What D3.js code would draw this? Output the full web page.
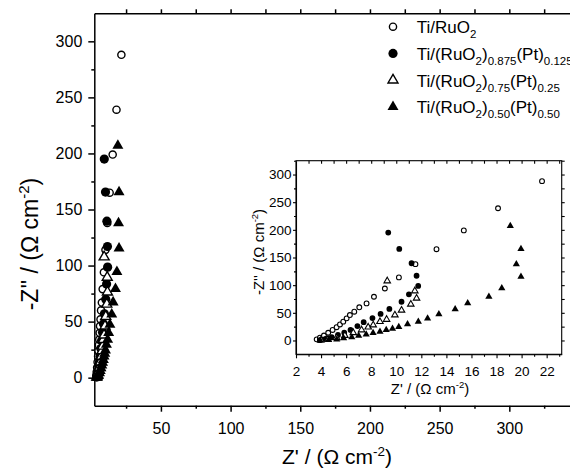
<!DOCTYPE html>
<html>
<head>
<meta charset="utf-8">
<script src="https://cdn.jsdelivr.net/npm/d3@7"></script>
<style>
  body { margin: 0; background: #fff; }
  svg { display: block; font-family: "Liberation Sans", Arial, sans-serif; }
</style>
</head>
<body>
<div id="chart"></div>
<script>
// legend labels as [text, isSubscript] pieces
const seriesLabels = [
  [["Ti/RuO", 0], ["2", 1]],
  [["Ti/(RuO", 0], ["2", 1], [")", 0], ["0.875", 1], ["(Pt)", 0], ["0.125", 1]],
  [["Ti/(RuO", 0], ["2", 1], [")", 0], ["0.75", 1], ["(Pt)", 0], ["0.25", 1]],
  [["Ti/(RuO", 0], ["2", 1], [")", 0], ["0.50", 1], ["(Pt)", 0], ["0.50", 1]]
];

// Z' and -Z'' values (ohm cm-2)
const ruo2Re = [3.65, 3.91, 4.23, 4.57, 4.92, 5.24, 5.51, 5.77, 6.04, 6.30, 6.65, 7.05, 7.63, 8.22, 9.09, 10.21, 11.53, 13.21, 15.39, 18.12, 21.63];
const ruo2Im = [2, 5, 9, 14, 19, 24, 29, 34, 40, 46, 52, 60, 67, 79, 94, 114, 138, 165, 199, 239, 288];

const pt125Re = [3.9, 4.35, 4.85, 5.35, 5.85, 6.35, 6.9, 7.4, 8.1, 8.75, 9.45, 10.42, 11.01, 11.75, 11.62, 11.22, 10.24, 9.36];
const pt125Im = [0.5, 3, 6, 10, 14, 19, 26, 33, 40.5, 48, 57, 70, 83.5, 98.6, 117, 139.6, 165.5, 195];

const pt25Re = [4.0, 4.55, 5.24, 5.9, 6.57, 7.23, 7.76, 8.16, 8.7, 9.23, 9.89, 10.42, 11.16, 11.62, 11.48, 9.28];
const pt25Im = [0.5, 2, 5, 9, 14, 19, 24, 28, 34, 38, 46, 54.6, 65.5, 76.3, 89.5, 107.6];

const pt50Re = [3.93, 4.6, 5.25, 5.8, 6.45, 7.0, 7.6, 8.15, 8.7, 9.2, 9.7, 10.2, 10.9, 11.76, 12.5, 13.4, 14.7, 15.7, 17.39, 18.42, 19.95, 19.58, 19.95, 19.1];
const pt50Im = [0, 1, 2, 4, 6, 8.5, 11, 13.5, 16, 19, 21.5, 24.5, 29.5, 34, 40, 47.4, 56.4, 67.3, 79.2, 94.4, 115.4, 137.8, 165.5, 207];

// tick values
const mainXTicks = [50, 100, 150, 200, 250, 300];
const mainYTicks = [0, 50, 100, 150, 200, 250, 300];
const insetXTicks = [2, 4, 6, 8, 10, 12, 14, 16, 18, 20, 22];
const insetYTicks = [0, 50, 100, 150, 200, 250, 300];

const series = [
  { re: ruo2Re, im: ruo2Im, shape: d3.symbolCircle, filled: false },
  { re: pt125Re, im: pt125Im, shape: d3.symbolCircle, filled: true },
  { re: pt25Re, im: pt25Im, shape: d3.symbolTriangle, filled: false },
  { re: pt50Re, im: pt50Im, shape: d3.symbolTriangle, filled: true }
].map((s, i) => ({ ...s, label: seriesLabels[i], points: s.re.map((r, j) => [r, s.im[j]]) }));

const W = 570, H = 471;
const svg = d3.select("#chart").append("svg").attr("width", W).attr("height", H);

// marker sizes, big (main/legend) and small (inset)
const bigSize = [{ r: 3.6 }, { r: 4.6 }, { s: 10 }, { s: 11 }];
const smallSize = [{ r: 2.4 }, { r: 2.9 }, { s: 6.5 }, { s: 7.2 }];
const area = d => d.r ? Math.PI * d.r * d.r : Math.sqrt(3) / 4 * d.s * d.s;

const symbolPath = (s, i, sizes) => d3.symbol().type(s.shape).size(area(sizes[i]))();

const drawMarks = (g, x, y, sizes, sw) => {
  series.forEach((s, i) => {
    g.append("g").selectAll("path")
      .data(s.points)
      .join("path")
        .attr("d", symbolPath(s, i, sizes))
        .attr("transform", d => `translate(${x(d[0])},${y(d[1])})`)
        .attr("fill", s.filled ? "#000" : "#fff")
        .attr("stroke", "#000")
        .attr("stroke-width", s.filled ? 0 : sw);
  });
};

const minorAxis = (axis, values, size) => axis.tickValues(values).tickSize(size).tickFormat(() => "");

const styleAxis = (sel, width, fontSize) => {
  sel.attr("font-family", null).attr("font-size", fontSize);
  sel.select(".domain").attr("stroke-width", width);
  sel.selectAll(".tick line").attr("stroke-width", width);
  sel.selectAll(".tick text").attr("fill", "#000");
};

// ---- main plot ----
const xMain = d3.scaleLinear().domain([2.2, 350]).range([94.3, 579]);
const yMain = d3.scaleLinear().domain([-25, 325]).range([405.7, 13.3]);

const mainG = svg.append("g");

mainG.append("g")
  .attr("transform", `translate(0,${yMain.range()[0]})`)
  .call(d3.axisBottom(xMain).tickValues(mainXTicks).tickSize(6).tickPadding(11).tickSizeOuter(0))
  .call(styleAxis, 1.5, 16);
mainG.append("g")
  .attr("transform", `translate(0,${yMain.range()[0]})`)
  .call(minorAxis(d3.axisBottom(xMain), d3.range(25, 350, 50), 3))
  .call(g => g.select(".domain").remove())
  .call(styleAxis, 1.5, 16);

mainG.append("g")
  .attr("transform", `translate(${xMain.range()[0]},0)`)
  .call(d3.axisLeft(yMain).tickValues(mainYTicks).tickSize(6).tickPadding(6).tickSizeOuter(0))
  .call(styleAxis, 1.5, 16);
mainG.append("g")
  .attr("transform", `translate(${xMain.range()[0]},0)`)
  .call(minorAxis(d3.axisLeft(yMain), d3.range(25, 300, 50), 3))
  .call(g => g.select(".domain").remove())
  .call(styleAxis, 1.5, 16);

mainG.append("g")
  .attr("transform", `translate(0,${yMain.range()[1]})`)
  .call(minorAxis(d3.axisTop(xMain), d3.range(25, 351, 25), 4).tickSizeOuter(0))
  .call(styleAxis, 1.5, 16);

drawMarks(mainG.append("g"), xMain, yMain, bigSize, 1.4);

const supLabel = (g, pre, supFs, shift) => {
  g.append("tspan").text(pre);
  g.append("tspan").attr("font-size", supFs).attr("dy", -shift).text("-2");
  g.append("tspan").attr("dy", shift).text(")");
};

mainG.append("text")
  .attr("x", 337).attr("y", 464)
  .attr("text-anchor", "middle").attr("font-size", 21)
  .call(supLabel, "Z' / (\u03A9 cm", 13.5, 8);

mainG.append("text")
  .attr("transform", "translate(38,244) rotate(-90)")
  .attr("text-anchor", "middle").attr("font-size", 23)
  .call(supLabel, "-Z'' / (\u03A9 cm", 15, 9);

// ---- legend ----
const legend = svg.append("g").attr("transform", "translate(393,26.7)");
series.forEach((s, i) => {
  const row = legend.append("g").attr("transform", `translate(0,${i * 26.7})`);
  row.append("path")
    .attr("d", symbolPath(s, i, bigSize))
    .attr("fill", s.filled ? "#000" : "#fff")
    .attr("stroke", "#000")
    .attr("stroke-width", s.filled ? 0 : 1.4);
  const t = row.append("text").attr("x", 23.7).attr("y", 6.5).attr("font-size", 17);
  let sub = false;
  s.label.forEach(([txt, isSub]) => {
    const dy = isSub && !sub ? 5 : (!isSub && sub ? -5 : 0);
    t.append("tspan").attr("dy", dy).attr("font-size", isSub ? 11.5 : 17).text(txt);
    sub = !!isSub;
  });
});

// ---- inset ----
const xIn = d3.scaleLinear().domain([2, 23.2]).range([296, 561.7]);
const yIn = d3.scaleLinear().domain([-25, 325]).range([354.3, 160.7]);

const inset = svg.append("g");
inset.append("rect")
  .attr("x", xIn.range()[0]).attr("y", yIn.range()[1])
  .attr("width", xIn.range()[1] - xIn.range()[0])
  .attr("height", yIn.range()[0] - yIn.range()[1])
  .attr("fill", "#fff").attr("stroke", "#000").attr("stroke-width", 1.1);

inset.append("g")
  .attr("transform", `translate(0,${yIn.range()[0]})`)
  .call(d3.axisBottom(xIn).tickValues(insetXTicks).tickSize(4).tickPadding(8.5).tickSizeOuter(0))
  .call(styleAxis, 1.1, 13.5);
inset.append("g")
  .attr("transform", `translate(0,${yIn.range()[0]})`)
  .call(minorAxis(d3.axisBottom(xIn), d3.range(3, 24, 2), 2.5))
  .call(g => g.select(".domain").remove())
  .call(styleAxis, 1.1, 13.5);

inset.append("g")
  .attr("transform", `translate(${xIn.range()[0]},0)`)
  .call(d3.axisLeft(yIn).tickValues(insetYTicks).tickSize(3).tickPadding(1.5).tickSizeOuter(0))
  .call(styleAxis, 1.1, 13.5);
inset.append("g")
  .attr("transform", `translate(${xIn.range()[0]},0)`)
  .call(minorAxis(d3.axisLeft(yIn), d3.range(25, 326, 50), 2))
  .call(g => g.select(".domain").remove())
  .call(styleAxis, 1.1, 13.5);

inset.append("g")
  .attr("transform", `translate(0,${yIn.range()[1]})`)
  .call(minorAxis(d3.axisTop(xIn), d3.range(3, 24, 1), -3).tickSizeOuter(0))
  .call(g => g.select(".domain").remove())
  .call(styleAxis, 1.1, 13.5);
inset.append("g")
  .attr("transform", `translate(${xIn.range()[1]},0)`)
  .call(minorAxis(d3.axisRight(yIn), d3.range(0, 326, 25), 3).tickSizeOuter(0))
  .call(g => g.select(".domain").remove())
  .call(styleAxis, 1.1, 13.5);

drawMarks(inset.append("g"), xIn, yIn, smallSize, 1.1);

inset.append("text")
  .attr("x", 430).attr("y", 394)
  .attr("text-anchor", "middle").attr("font-size", 15)
  .call(supLabel, "Z' / (\u03A9 cm", 9.5, 6);

inset.append("text")
  .attr("transform", "translate(264,252) rotate(-90)")
  .attr("text-anchor", "middle").attr("font-size", 15)
  .call(supLabel, "-Z'' / (\u03A9 cm", 9.5, 6);
</script>
</body>
</html>
